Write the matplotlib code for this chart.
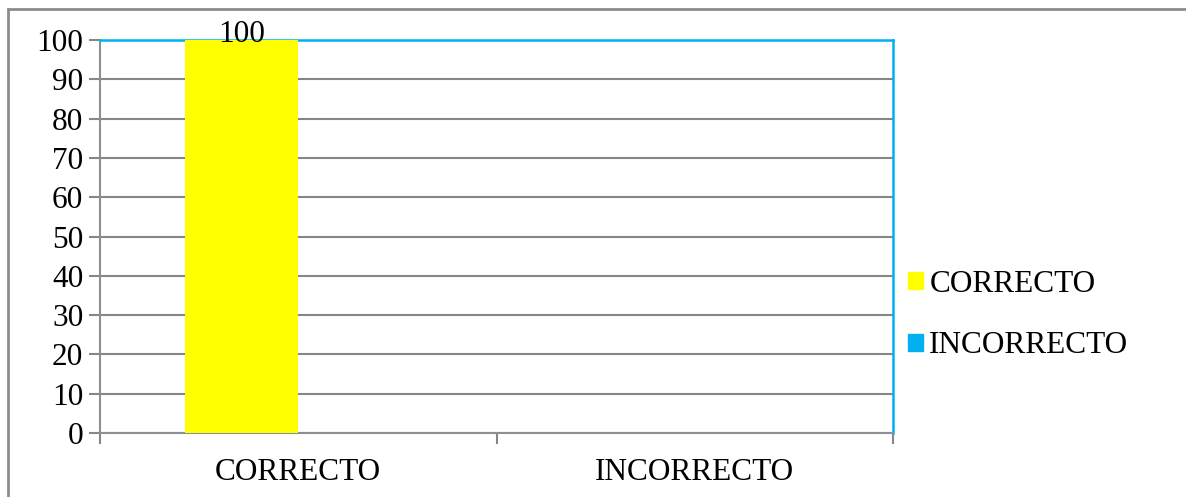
import matplotlib
matplotlib.use("Agg")
import matplotlib.pyplot as plt
from matplotlib.patches import Rectangle, Patch
import numpy as np

categories = ["CORRECTO", "INCORRECTO"]
series_names = ["CORRECTO", "INCORRECTO"]
correcto_vals = [100, 0]
incorrecto_vals = [0, 0]
yticks = list(range(0, 101, 10))

YELLOW = "#FFFF00"
BLUE = "#00B0F0"
GRID = "#868686"

plt.rcParams["font.family"] = ["Liberation Serif", "DejaVu Serif"]
FS = 22.5

fig = plt.figure(figsize=(11.86, 4.97), dpi=100)
ax = fig.add_axes([100/1186, 1-433/497, (893-100)/1186, (433-40)/497])

x = np.arange(len(categories))
w = 0.285
b1 = ax.bar(x - w/2, correcto_vals, width=w, color=YELLOW, zorder=3, label=series_names[0])
b2 = ax.bar(x + w/2, incorrecto_vals, width=w, color=BLUE, zorder=3, label=series_names[1])

ax.set_xlim(-0.5, 1.5)
ax.set_ylim(0, 100)
ax.set_yticks(yticks)
ax.set_yticklabels([str(v) for v in yticks], fontsize=FS)
ax.yaxis.grid(True, color=GRID, linewidth=1.5, zorder=0)
ax.set_axisbelow(True)

ax.set_xticks(x)
ax.set_xticklabels(categories, fontsize=FS)
ax.tick_params(axis="x", length=0, pad=18)
ax.set_xticks([-0.5, 0.5, 1.5], minor=True)
ax.tick_params(axis="x", which="minor", length=8, width=1.5, color=GRID)
ax.tick_params(axis="y", length=8, width=1.5, color=GRID, pad=4)

for s in ["left", "bottom"]:
    ax.spines[s].set_color("#8A9096")
    ax.spines[s].set_linewidth(1.5)
for s in ["top", "right"]:
    ax.spines[s].set_color(BLUE)
    ax.spines[s].set_linewidth(1.8)

# data label only on non-zero bar
for rect, v in zip(b1, correcto_vals):
    if v:
        ax.annotate(str(v), (rect.get_x() + rect.get_width()/2, v),
                    xytext=(0, 4), textcoords="offset points",
                    ha="center", va="center", fontsize=FS, zorder=5)

handles = [Patch(facecolor=YELLOW, edgecolor=YELLOW), Patch(facecolor=BLUE, edgecolor=BLUE)]
fig.legend(handles, series_names, loc="center left",
           bbox_to_anchor=(895/1186, 1-315/497), frameon=False,
           fontsize=FS, handlelength=0.48, handleheight=0.48,
           handletextpad=0.22, labelspacing=1.05, borderaxespad=0)

fig.patches.append(Rectangle((8/1186, -0.1), 1.2, 1-9/497+0.1,
                             transform=fig.transFigure, fill=False,
                             edgecolor="#8C8C8C", linewidth=2))

fig.savefig("out.png", dpi=100)
